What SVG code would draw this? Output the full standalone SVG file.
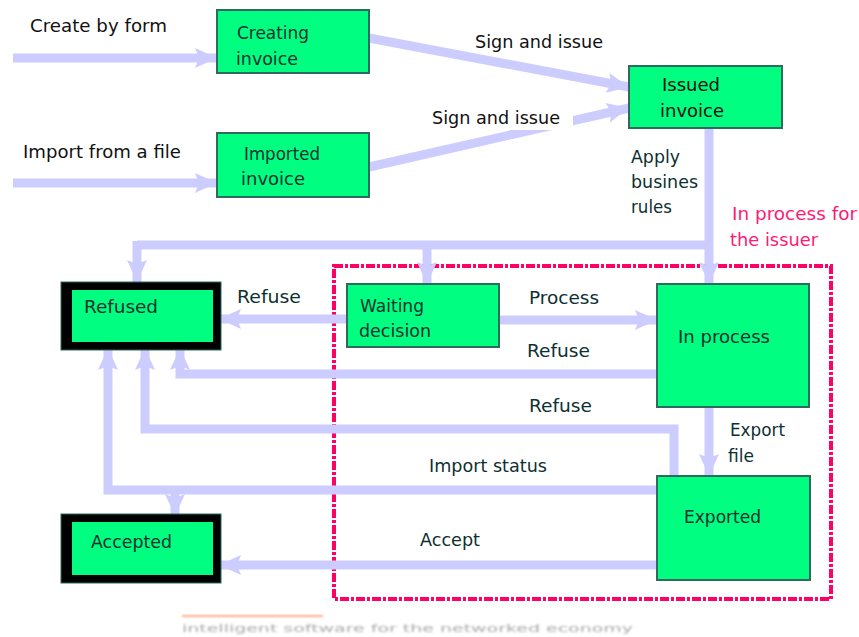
<svg xmlns="http://www.w3.org/2000/svg" width="859" height="637" viewBox="0 0 859 637">
<style>
.node{fill:#00ff80;stroke:#2e6b5e;stroke-width:2}
.outer{fill:#000;stroke:#2e6b5e;stroke-width:1}
.inner{fill:#00ff80}
.t{font-family:"DejaVu Sans",Verdana,sans-serif;font-size:17.5px;fill:#0d3030}
.k{font-family:"DejaVu Sans",Verdana,sans-serif;font-size:17.5px;fill:#111}
.pink{font-family:"DejaVu Sans",Verdana,sans-serif;font-size:17.5px;fill:#ff1a75}
.c{fill:none;stroke:#ccccff;stroke-width:9}
.ca{fill:none;stroke:#ccccff;stroke-width:9;marker-end:url(#ah)}
</style>
<defs>
<marker id="ah" markerUnits="userSpaceOnUse" markerWidth="22" markerHeight="22" viewBox="0 0 22 22" refX="22" refY="11" orient="auto">
<path d="M0,1 L22,11 L0,21 L4,11 z" fill="#ccccff"/>
</marker>
<filter id="blur"><feGaussianBlur stdDeviation="0.9"/></filter>
</defs>
<rect width="859" height="637" fill="#fff"/>

<g id="region">
<rect x="334" y="266" width="497" height="333" fill="none" stroke="#ff0066" stroke-width="4" stroke-dasharray="9 2 3 2"/>
<text class="pink" x="732" y="220" textLength="125" lengthAdjust="spacingAndGlyphs">In process for</text>
<text class="pink" x="730" y="246" textLength="88" lengthAdjust="spacingAndGlyphs">the issuer</text>
</g>

<g id="connectors">
<line class="ca" x1="13" y1="58" x2="217" y2="58"/>
<line class="ca" x1="13" y1="183" x2="217" y2="183"/>
<line class="ca" x1="369" y1="38" x2="629" y2="87"/>
<line class="ca" x1="369" y1="167" x2="629" y2="108"/>
<path class="ca" d="M709,128 V284"/>
<path class="c" d="M709,245 H137"/>
<path class="ca" d="M137,241 V282"/>
<path class="ca" d="M427,245 V284"/>
<path class="ca" d="M347,319 H219"/>
<path class="ca" d="M499,320 H657"/>
<path class="ca" d="M657,374 H180 V348"/>
<path class="ca" d="M674,476 V429 H145 V348"/>
<path class="ca" d="M657,490 H108 V348"/>
<path class="ca" d="M175,490 V516"/>
<path class="ca" d="M657,565 H219"/>
<path class="ca" d="M709,407 V476"/>
<rect x="430" y="106" width="143" height="24" fill="#fff"/>
<text class="k" x="475" y="48" textLength="128" lengthAdjust="spacingAndGlyphs">Sign and issue</text>
<text class="k" x="432" y="124" textLength="128" lengthAdjust="spacingAndGlyphs">Sign and issue</text>
<text class="k" x="30" y="32" textLength="137" lengthAdjust="spacingAndGlyphs">Create by form</text>
<text class="k" x="23" y="158" textLength="158" lengthAdjust="spacingAndGlyphs">Import from a file</text>
<text class="t" x="631" y="163" textLength="49" lengthAdjust="spacingAndGlyphs">Apply</text>
<text class="t" x="631" y="188" textLength="67" lengthAdjust="spacingAndGlyphs">busines</text>
<text class="t" x="631" y="213" textLength="41" lengthAdjust="spacingAndGlyphs">rules</text>
<text class="t" x="237" y="303" textLength="64" lengthAdjust="spacingAndGlyphs">Refuse</text>
<text class="t" x="529" y="304" textLength="70" lengthAdjust="spacingAndGlyphs">Process</text>
<text class="t" x="527" y="357" textLength="63" lengthAdjust="spacingAndGlyphs">Refuse</text>
<text class="t" x="529" y="412" textLength="63" lengthAdjust="spacingAndGlyphs">Refuse</text>
<text class="t" x="730" y="436" textLength="55" lengthAdjust="spacingAndGlyphs">Export</text>
<text class="t" x="728" y="462" textLength="26" lengthAdjust="spacingAndGlyphs">file</text>
<text class="t" x="429" y="472" textLength="118" lengthAdjust="spacingAndGlyphs">Import status</text>
<text class="t" x="420" y="546" textLength="60" lengthAdjust="spacingAndGlyphs">Accept</text>
</g>

<g id="creating-invoice">
<rect class="node" x="217" y="10" width="152" height="63"/>
<text class="t" x="237" y="39" textLength="72" lengthAdjust="spacingAndGlyphs">Creating</text>
<text class="t" x="236" y="65" textLength="62" lengthAdjust="spacingAndGlyphs">invoice</text>
</g>
<g id="imported-invoice">
<rect class="node" x="217" y="133" width="152" height="64"/>
<text class="t" x="244" y="160" textLength="76" lengthAdjust="spacingAndGlyphs">Imported</text>
<text class="t" x="241" y="185" textLength="64" lengthAdjust="spacingAndGlyphs">invoice</text>
</g>
<g id="issued-invoice">
<rect class="node" x="629" y="66" width="153" height="62"/>
<text class="k" x="662" y="91" textLength="58" lengthAdjust="spacingAndGlyphs">Issued</text>
<text class="k" x="660" y="117" textLength="64" lengthAdjust="spacingAndGlyphs">invoice</text>
</g>
<g id="refused">
<rect class="outer" x="61" y="282" width="160" height="68"/>
<rect class="inner" x="72" y="290" width="141" height="52"/>
<text class="t" x="84" y="313" textLength="74" lengthAdjust="spacingAndGlyphs">Refused</text>
</g>
<g id="accepted">
<rect class="outer" x="61" y="514" width="160" height="69"/>
<rect class="inner" x="72" y="522" width="141" height="53"/>
<text class="t" x="91" y="548" textLength="81" lengthAdjust="spacingAndGlyphs">Accepted</text>
</g>
<g id="waiting-decision">
<rect class="node" x="347" y="284" width="152" height="63"/>
<text class="t" x="360" y="312" textLength="64" lengthAdjust="spacingAndGlyphs">Waiting</text>
<text class="t" x="359" y="337" textLength="72" lengthAdjust="spacingAndGlyphs">decision</text>
</g>
<g id="in-process">
<rect class="node" x="657" y="284" width="152" height="123"/>
<text class="t" x="678" y="343" textLength="92" lengthAdjust="spacingAndGlyphs">In process</text>
</g>
<g id="exported">
<rect class="node" x="657" y="476" width="153" height="104"/>
<text class="t" x="684" y="523" textLength="77" lengthAdjust="spacingAndGlyphs">Exported</text>
</g>

<g id="footer" filter="url(#blur)">
<line x1="182" y1="616" x2="323" y2="616" stroke="#ffaa88" stroke-width="2"/>
<text x="182" y="632" font-family="DejaVu Sans,Verdana,sans-serif" font-size="11" fill="#aaa" textLength="451" lengthAdjust="spacingAndGlyphs">intelligent software for the networked economy</text>
</g>
</svg>
